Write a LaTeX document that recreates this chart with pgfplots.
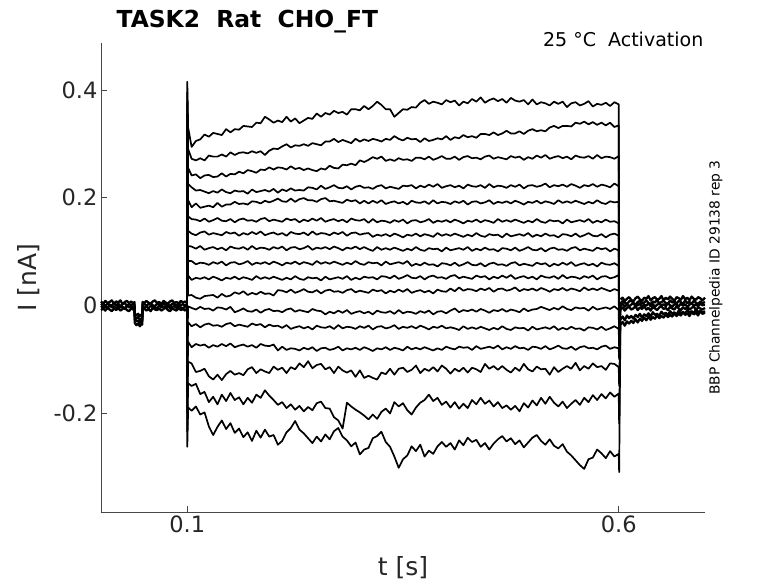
\documentclass[border=0pt]{standalone}
\usepackage{pgfplots}
\pgfplotsset{compat=1.18}
\usepackage{pgfplotstable}
\usepackage{fontspec}
\setmainfont{DejaVu Sans}
\definecolor{axgray}{HTML}{262626}

\pgfplotstableread{
t a b c d e f g h i j k l m n o p q
0.0995 0.004 0.001 -0.002 0.003 -0.004 0.002 -0.001 0.005 -0.003 0.000 -0.005 0.002 -0.002 0.004 -0.006 -0.001 -0.004
0.1000 0.415 0.395 0.375 0.355 0.335 0.315 0.290 0.270 0.250 0.220 0.180 -0.080 -0.120 -0.160 -0.200 -0.235 -0.263
0.1010 0.330 0.290 0.255 0.225 0.195 0.165 0.138 0.110 0.082 0.055 0.018 -0.002 -0.032 -0.068 -0.105 -0.145 -0.190
0.105 0.294 0.272 0.241 0.219 0.182 0.160 0.133 0.109 0.082 0.047 0.019 -0.005 -0.039 -0.078 -0.108 -0.150 -0.196
0.110 0.305 0.269 0.243 0.213 0.189 0.159 0.130 0.105 0.076 0.051 0.014 -0.008 -0.035 -0.072 -0.124 -0.146 -0.188
0.115 0.308 0.273 0.236 0.214 0.181 0.156 0.135 0.110 0.079 0.049 0.012 -0.003 -0.041 -0.075 -0.122 -0.165 -0.203
0.120 0.317 0.269 0.241 0.211 0.183 0.161 0.137 0.103 0.078 0.052 0.017 -0.007 -0.036 -0.073 -0.118 -0.161 -0.199
0.125 0.313 0.278 0.242 0.208 0.185 0.155 0.131 0.106 0.075 0.048 0.018 -0.006 -0.034 -0.079 -0.132 -0.180 -0.225
0.130 0.320 0.276 0.238 0.212 0.182 0.158 0.134 0.108 0.080 0.053 0.019 -0.010 -0.038 -0.074 -0.138 -0.170 -0.241
0.135 0.318 0.276 0.239 0.209 0.190 0.162 0.132 0.104 0.077 0.050 0.014 -0.004 -0.037 -0.077 -0.129 -0.184 -0.226
0.140 0.316 0.280 0.245 0.215 0.183 0.157 0.130 0.107 0.081 0.046 0.021 -0.005 -0.040 -0.072 -0.139 -0.166 -0.214
0.145 0.327 0.276 0.239 0.210 0.187 0.156 0.136 0.102 0.074 0.051 0.016 -0.008 -0.035 -0.076 -0.128 -0.178 -0.230
0.150 0.321 0.284 0.244 0.208 0.187 0.160 0.133 0.109 0.079 0.049 0.018 -0.003 -0.033 -0.071 -0.122 -0.163 -0.219
0.155 0.327 0.279 0.243 0.213 0.192 0.154 0.135 0.106 0.080 0.053 0.024 -0.013 -0.039 -0.078 -0.129 -0.176 -0.237
0.160 0.326 0.283 0.248 0.211 0.188 0.159 0.129 0.105 0.076 0.048 0.021 -0.010 -0.036 -0.075 -0.126 -0.171 -0.229
0.165 0.333 0.284 0.245 0.212 0.189 0.161 0.134 0.108 0.078 0.052 0.026 -0.006 -0.038 -0.073 -0.130 -0.184 -0.245
0.170 0.332 0.282 0.251 0.207 0.187 0.157 0.131 0.103 0.082 0.050 0.019 -0.011 -0.040 -0.077 -0.119 -0.172 -0.236
0.175 0.331 0.286 0.249 0.215 0.193 0.158 0.136 0.110 0.075 0.047 0.023 -0.012 -0.034 -0.074 -0.115 -0.181 -0.252
0.180 0.339 0.283 0.246 0.210 0.192 0.155 0.132 0.104 0.079 0.054 0.020 -0.008 -0.037 -0.079 -0.126 -0.166 -0.233
0.185 0.338 0.286 0.252 0.212 0.189 0.160 0.137 0.107 0.077 0.049 0.025 -0.014 -0.035 -0.072 -0.119 -0.172 -0.246
0.190 0.350 0.279 0.251 0.214 0.194 0.162 0.130 0.106 0.080 0.052 0.021 -0.009 -0.041 -0.075 -0.123 -0.158 -0.231
0.195 0.345 0.287 0.256 0.211 0.191 0.156 0.133 0.103 0.076 0.049 0.022 -0.007 -0.036 -0.076 -0.126 -0.168 -0.244
0.200 0.339 0.291 0.252 0.216 0.194 0.159 0.135 0.108 0.081 0.053 0.018 -0.011 -0.039 -0.073 -0.114 -0.176 -0.241
0.205 0.343 0.290 0.256 0.209 0.198 0.157 0.131 0.105 0.078 0.050 0.028 -0.010 -0.038 -0.084 -0.120 -0.185 -0.259
0.210 0.340 0.295 0.255 0.215 0.193 0.155 0.134 0.109 0.074 0.047 0.027 -0.013 -0.042 -0.077 -0.116 -0.180 -0.252
0.215 0.350 0.299 0.252 0.212 0.192 0.161 0.129 0.102 0.079 0.051 0.024 -0.008 -0.037 -0.083 -0.126 -0.191 -0.236
0.220 0.341 0.293 0.258 0.217 0.198 0.158 0.136 0.107 0.077 0.048 0.029 -0.006 -0.044 -0.080 -0.115 -0.184 -0.228
0.225 0.347 0.297 0.253 0.213 0.192 0.160 0.133 0.108 0.081 0.054 0.023 -0.012 -0.041 -0.081 -0.119 -0.194 -0.215
0.230 0.338 0.296 0.255 0.214 0.197 0.154 0.132 0.104 0.076 0.049 0.026 -0.009 -0.039 -0.084 -0.108 -0.187 -0.231
0.235 0.343 0.299 0.251 0.213 0.199 0.159 0.135 0.106 0.080 0.047 0.030 -0.011 -0.043 -0.079 -0.115 -0.197 -0.238
0.240 0.348 0.296 0.254 0.219 0.195 0.156 0.130 0.110 0.078 0.052 0.025 -0.013 -0.040 -0.082 -0.104 -0.189 -0.247
0.245 0.346 0.301 0.251 0.218 0.195 0.161 0.137 0.103 0.075 0.050 0.024 -0.007 -0.045 -0.078 -0.117 -0.195 -0.256
0.250 0.356 0.299 0.249 0.215 0.192 0.157 0.131 0.107 0.082 0.051 0.028 -0.010 -0.038 -0.085 -0.111 -0.182 -0.244
0.255 0.350 0.297 0.254 0.222 0.197 0.162 0.134 0.105 0.077 0.046 0.022 -0.011 -0.041 -0.080 -0.109 -0.179 -0.253
0.260 0.357 0.304 0.252 0.216 0.199 0.155 0.133 0.108 0.080 0.053 0.027 -0.017 -0.042 -0.079 -0.119 -0.191 -0.240
0.265 0.354 0.304 0.259 0.219 0.193 0.158 0.130 0.104 0.077 0.048 0.029 -0.012 -0.039 -0.083 -0.115 -0.192 -0.249
0.270 0.361 0.309 0.255 0.223 0.194 0.160 0.135 0.109 0.081 0.050 0.025 -0.015 -0.044 -0.081 -0.126 -0.208 -0.234
0.275 0.357 0.303 0.254 0.218 0.192 0.156 0.132 0.106 0.078 0.052 0.026 -0.010 -0.037 -0.077 -0.114 -0.214 -0.228
0.280 0.359 0.307 0.261 0.217 0.190 0.159 0.136 0.102 0.075 0.049 0.023 -0.014 -0.043 -0.084 -0.121 -0.229 -0.244
0.285 0.354 0.304 0.260 0.221 0.196 0.154 0.129 0.107 0.079 0.054 0.028 -0.009 -0.040 -0.080 -0.125 -0.181 -0.251
0.290 0.364 0.301 0.263 0.215 0.193 0.161 0.134 0.105 0.076 0.047 0.030 -0.016 -0.041 -0.082 -0.121 -0.188 -0.262
0.295 0.364 0.309 0.260 0.220 0.195 0.158 0.135 0.109 0.082 0.051 0.024 -0.013 -0.044 -0.079 -0.133 -0.194 -0.255
0.300 0.362 0.304 0.269 0.222 0.189 0.157 0.131 0.104 0.077 0.048 0.027 -0.011 -0.039 -0.083 -0.121 -0.199 -0.277
0.305 0.370 0.308 0.266 0.218 0.194 0.160 0.133 0.108 0.075 0.053 0.025 -0.015 -0.042 -0.078 -0.135 -0.205 -0.268
0.310 0.364 0.305 0.270 0.219 0.189 0.153 0.134 0.104 0.080 0.051 0.023 -0.012 -0.038 -0.081 -0.131 -0.212 -0.265
0.315 0.370 0.309 0.275 0.216 0.194 0.160 0.127 0.101 0.078 0.052 0.029 -0.017 -0.045 -0.085 -0.135 -0.203 -0.247
0.320 0.378 0.307 0.272 0.221 0.190 0.154 0.131 0.108 0.079 0.048 0.026 -0.010 -0.040 -0.080 -0.138 -0.211 -0.243
0.325 0.372 0.304 0.276 0.223 0.195 0.157 0.129 0.103 0.074 0.054 0.028 -0.013 -0.039 -0.082 -0.125 -0.198 -0.235
0.330 0.364 0.309 0.268 0.217 0.188 0.156 0.132 0.106 0.081 0.053 0.022 -0.014 -0.043 -0.078 -0.128 -0.192 -0.254
0.335 0.364 0.307 0.271 0.220 0.191 0.153 0.128 0.103 0.076 0.050 0.027 -0.011 -0.041 -0.083 -0.118 -0.201 -0.263
0.340 0.350 0.314 0.268 0.218 0.193 0.158 0.133 0.107 0.078 0.055 0.024 -0.016 -0.037 -0.079 -0.129 -0.180 -0.281
0.345 0.357 0.309 0.273 0.216 0.189 0.155 0.130 0.104 0.080 0.049 0.029 -0.009 -0.044 -0.081 -0.118 -0.188 -0.302
0.350 0.364 0.306 0.270 0.222 0.192 0.159 0.126 0.101 0.077 0.052 0.025 -0.015 -0.040 -0.084 -0.116 -0.182 -0.286
0.355 0.363 0.311 0.271 0.221 0.187 0.152 0.131 0.105 0.082 0.056 0.030 -0.012 -0.042 -0.077 -0.124 -0.195 -0.279
0.360 0.368 0.308 0.268 0.223 0.194 0.157 0.129 0.102 0.073 0.051 0.023 -0.013 -0.039 -0.082 -0.120 -0.203 -0.262
0.365 0.367 0.309 0.274 0.217 0.191 0.158 0.133 0.108 0.077 0.050 0.026 -0.016 -0.043 -0.079 -0.112 -0.190 -0.271
0.370 0.376 0.303 0.274 0.222 0.190 0.154 0.128 0.103 0.074 0.054 0.028 -0.011 -0.038 -0.082 -0.126 -0.181 -0.259
0.375 0.381 0.310 0.271 0.219 0.193 0.156 0.132 0.101 0.079 0.048 0.024 -0.014 -0.041 -0.078 -0.118 -0.176 -0.281
0.380 0.374 0.305 0.276 0.224 0.188 0.160 0.130 0.106 0.075 0.053 0.027 -0.010 -0.045 -0.081 -0.122 -0.166 -0.270
0.385 0.378 0.307 0.270 0.220 0.195 0.153 0.127 0.104 0.076 0.055 0.022 -0.017 -0.040 -0.084 -0.115 -0.178 -0.276
0.390 0.376 0.310 0.273 0.225 0.189 0.157 0.134 0.105 0.072 0.051 0.029 -0.012 -0.042 -0.080 -0.123 -0.172 -0.262
0.395 0.373 0.308 0.277 0.218 0.192 0.155 0.129 0.100 0.078 0.052 0.026 -0.011 -0.038 -0.083 -0.112 -0.185 -0.254
0.400 0.381 0.314 0.272 0.221 0.191 0.158 0.132 0.107 0.077 0.049 0.025 -0.015 -0.043 -0.077 -0.118 -0.179 -0.263
0.405 0.377 0.307 0.272 0.223 0.188 0.154 0.129 0.102 0.074 0.054 0.031 -0.010 -0.041 -0.080 -0.127 -0.190 -0.256
0.410 0.380 0.312 0.276 0.219 0.193 0.159 0.133 0.104 0.079 0.056 0.026 -0.006 -0.043 -0.082 -0.118 -0.180 -0.268
0.415 0.371 0.310 0.270 0.222 0.190 0.156 0.130 0.106 0.073 0.050 0.033 -0.013 -0.046 -0.077 -0.123 -0.192 -0.251
0.420 0.378 0.316 0.275 0.217 0.194 0.152 0.127 0.103 0.076 0.053 0.027 -0.009 -0.039 -0.079 -0.116 -0.183 -0.260
0.425 0.375 0.312 0.277 0.224 0.187 0.157 0.131 0.108 0.080 0.051 0.030 -0.011 -0.044 -0.078 -0.125 -0.191 -0.246
0.430 0.383 0.314 0.273 0.221 0.192 0.155 0.128 0.101 0.075 0.049 0.029 -0.008 -0.041 -0.083 -0.116 -0.176 -0.254
0.435 0.378 0.311 0.274 0.220 0.193 0.159 0.134 0.105 0.074 0.055 0.026 -0.012 -0.044 -0.076 -0.119 -0.184 -0.250
0.440 0.386 0.318 0.271 0.223 0.189 0.154 0.129 0.102 0.078 0.052 0.031 -0.007 -0.040 -0.081 -0.124 -0.172 -0.263
0.445 0.376 0.318 0.276 0.218 0.191 0.158 0.127 0.107 0.072 0.054 0.028 -0.010 -0.043 -0.079 -0.109 -0.183 -0.256
0.450 0.381 0.316 0.278 0.225 0.195 0.156 0.132 0.103 0.077 0.048 0.032 -0.014 -0.046 -0.077 -0.118 -0.177 -0.268
0.455 0.384 0.321 0.272 0.219 0.188 0.153 0.130 0.104 0.079 0.053 0.025 -0.009 -0.042 -0.080 -0.113 -0.188 -0.257
0.460 0.379 0.316 0.275 0.222 0.192 0.160 0.131 0.100 0.075 0.050 0.030 -0.011 -0.045 -0.075 -0.120 -0.180 -0.249
0.465 0.383 0.319 0.273 0.221 0.190 0.155 0.126 0.106 0.076 0.055 0.031 -0.007 -0.039 -0.082 -0.113 -0.191 -0.243
0.470 0.376 0.324 0.271 0.218 0.193 0.158 0.133 0.105 0.073 0.051 0.027 -0.012 -0.044 -0.078 -0.120 -0.186 -0.253
0.475 0.385 0.319 0.277 0.223 0.189 0.155 0.128 0.102 0.078 0.056 0.029 -0.008 -0.046 -0.081 -0.125 -0.194 -0.247
0.480 0.380 0.319 0.274 0.220 0.194 0.159 0.130 0.107 0.080 0.049 0.033 -0.010 -0.041 -0.076 -0.116 -0.187 -0.258
0.485 0.378 0.323 0.276 0.224 0.191 0.156 0.132 0.101 0.074 0.052 0.026 -0.013 -0.043 -0.080 -0.122 -0.197 -0.251
0.490 0.381 0.318 0.270 0.217 0.187 0.153 0.129 0.104 0.077 0.054 0.030 -0.006 -0.042 -0.079 -0.109 -0.182 -0.264
0.495 0.373 0.324 0.275 0.222 0.192 0.157 0.134 0.108 0.075 0.050 0.028 -0.011 -0.047 -0.083 -0.119 -0.190 -0.255
0.500 0.382 0.327 0.272 0.223 0.190 0.154 0.127 0.103 0.073 0.053 0.031 -0.008 -0.040 -0.077 -0.123 -0.177 -0.246
0.505 0.373 0.323 0.278 0.220 0.194 0.160 0.131 0.102 0.079 0.048 0.027 -0.007 -0.045 -0.078 -0.114 -0.186 -0.241
0.510 0.377 0.325 0.274 0.222 0.189 0.155 0.128 0.106 0.076 0.055 0.032 -0.003 -0.043 -0.081 -0.119 -0.172 -0.252
0.515 0.375 0.323 0.279 0.226 0.193 0.153 0.133 0.100 0.078 0.052 0.029 -0.006 -0.041 -0.076 -0.118 -0.183 -0.259
0.520 0.371 0.330 0.272 0.219 0.191 0.158 0.129 0.105 0.072 0.051 0.025 -0.009 -0.044 -0.082 -0.129 -0.170 -0.249
0.525 0.378 0.333 0.275 0.223 0.188 0.156 0.130 0.107 0.077 0.054 0.030 -0.005 -0.039 -0.079 -0.115 -0.181 -0.261
0.530 0.374 0.329 0.277 0.221 0.195 0.157 0.126 0.103 0.074 0.049 0.028 -0.008 -0.046 -0.075 -0.124 -0.188 -0.266
0.535 0.378 0.333 0.273 0.224 0.190 0.152 0.132 0.104 0.079 0.056 0.032 -0.002 -0.042 -0.080 -0.118 -0.179 -0.258
0.540 0.368 0.333 0.276 0.220 0.193 0.159 0.131 0.101 0.075 0.050 0.027 -0.007 -0.045 -0.081 -0.113 -0.191 -0.272
0.545 0.375 0.332 0.271 0.225 0.190 0.154 0.128 0.106 0.080 0.053 0.031 -0.009 -0.040 -0.077 -0.118 -0.183 -0.279
0.550 0.377 0.339 0.278 0.222 0.194 0.156 0.133 0.108 0.073 0.052 0.029 -0.004 -0.044 -0.083 -0.107 -0.176 -0.288
0.555 0.371 0.337 0.275 0.218 0.191 0.158 0.127 0.102 0.076 0.049 0.026 -0.006 -0.043 -0.078 -0.121 -0.185 -0.297
0.560 0.374 0.341 0.274 0.223 0.188 0.155 0.130 0.105 0.078 0.054 0.033 -0.005 -0.047 -0.076 -0.113 -0.172 -0.304
0.565 0.379 0.336 0.277 0.221 0.192 0.160 0.134 0.103 0.074 0.051 0.028 -0.010 -0.041 -0.080 -0.118 -0.180 -0.286
0.570 0.369 0.340 0.272 0.225 0.189 0.153 0.129 0.101 0.077 0.055 0.031 -0.003 -0.042 -0.079 -0.108 -0.167 -0.283
0.575 0.374 0.335 0.279 0.220 0.195 0.157 0.128 0.107 0.072 0.048 0.028 -0.008 -0.045 -0.082 -0.115 -0.176 -0.268
0.580 0.372 0.339 0.273 0.224 0.190 0.154 0.132 0.104 0.079 0.053 0.032 -0.006 -0.040 -0.077 -0.113 -0.165 -0.275
0.585 0.376 0.334 0.276 0.222 0.188 0.159 0.126 0.106 0.076 0.054 0.029 -0.004 -0.046 -0.075 -0.120 -0.173 -0.284
0.590 0.370 0.339 0.275 0.219 0.193 0.155 0.131 0.100 0.075 0.050 0.026 -0.007 -0.043 -0.081 -0.108 -0.162 -0.271
0.595 0.377 0.331 0.272 0.226 0.191 0.156 0.133 0.105 0.078 0.052 0.030 -0.002 -0.039 -0.078 -0.109 -0.170 -0.281
0.600 0.373 0.334 0.277 0.221 0.192 0.152 0.129 0.102 0.073 0.056 0.027 -0.009 -0.044 -0.080 -0.115 -0.164 -0.276
0.6005 -0.040 -0.045 -0.050 -0.052 -0.055 -0.058 -0.060 -0.062 -0.064 -0.066 -0.068 -0.070 -0.080 -0.100 -0.150 -0.220 -0.310
0.6020 0.006 0.004 0.003 0.005 0.002 0.004 0.001 0.003 0.000 0.002 -0.001 -0.003 -0.008 -0.015 -0.025 -0.032 -0.038
}\pulse

\pgfplotstableread{
t A B C D
0.0000 0.007 0.000 -0.001 -0.009
0.0025 0.003 0.004 -0.005 -0.006
0.0050 0.008 -0.002 -0.002 -0.010
0.0075 0.004 0.003 -0.006 -0.004
0.0100 0.006 0.001 0.000 -0.008
0.0125 0.009 -0.001 -0.004 -0.011
0.0150 0.003 0.004 -0.002 -0.006
0.0175 0.007 0.000 -0.006 -0.009
0.0200 0.005 0.003 -0.001 -0.005
0.0225 0.009 -0.002 -0.004 -0.010
0.0250 0.002 0.002 -0.003 -0.007
0.0275 0.006 0.004 -0.007 -0.004
0.0300 0.008 -0.001 -0.001 -0.009
0.0325 0.004 0.002 -0.004 -0.011
0.0350 0.007 0.000 -0.002 -0.006
0.0375 0.003 0.003 -0.005 -0.008
0.0388 0.006 0.001 -0.003 -0.007
0.0392 -0.015 -0.021 -0.027 -0.033
0.0410 -0.019 -0.025 -0.030 -0.037
0.0430 -0.016 -0.022 -0.029 -0.034
0.0450 -0.020 -0.027 -0.033 -0.039
0.0470 -0.017 -0.024 -0.028 -0.035
0.0478 -0.018 -0.024 -0.030 -0.036
0.0482 0.006 0.001 -0.003 -0.008
0.0500 0.004 0.003 -0.005 -0.006
0.0525 0.008 -0.001 -0.002 -0.010
0.0550 0.005 0.002 -0.006 -0.007
0.0575 0.003 0.004 -0.001 -0.011
0.0600 0.007 0.000 -0.004 -0.005
0.0625 0.009 -0.002 -0.003 -0.008
0.0650 0.004 0.003 -0.007 -0.009
0.0675 0.006 0.001 0.000 -0.006
0.0700 0.002 -0.001 -0.004 -0.010
0.0725 0.008 0.004 -0.002 -0.007
0.0750 0.005 0.000 -0.005 -0.004
0.0775 0.003 0.002 -0.001 -0.009
0.0800 0.007 -0.002 -0.006 -0.011
0.0825 0.009 0.003 -0.003 -0.006
0.0850 0.004 0.001 -0.002 -0.008
0.0875 0.006 -0.001 -0.005 -0.010
0.0900 0.003 0.004 -0.001 -0.005
0.0925 0.008 0.000 -0.004 -0.009
0.0950 0.005 0.002 -0.006 -0.007
0.0975 0.007 -0.001 -0.002 -0.010
0.0995 0.004 0.001 -0.003 -0.006
}\pre

\pgfplotstableread{
t A B C D E F
0.6020 0.011 0.003 -0.001 -0.007 -0.026 -0.036
0.6045 0.014 0.008 0.003 -0.004 -0.021 -0.031
0.6070 0.008 0.005 -0.003 -0.010 -0.028 -0.038
0.6095 0.012 0.002 0.002 -0.005 -0.019 -0.030
0.6120 0.015 0.007 -0.002 -0.003 -0.024 -0.034
0.6145 0.010 0.009 0.001 -0.008 -0.020 -0.029
0.6170 0.007 0.004 0.004 -0.006 -0.025 -0.033
0.6195 0.013 0.001 -0.002 -0.002 -0.018 -0.026
0.6220 0.016 0.006 0.000 -0.009 -0.022 -0.032
0.6245 0.011 0.008 0.003 -0.004 -0.016 -0.025
0.6270 0.008 0.003 -0.003 -0.007 -0.023 -0.029
0.6295 0.014 0.005 0.001 -0.002 -0.017 -0.023
0.6320 0.012 0.009 -0.001 -0.008 -0.020 -0.028
0.6345 0.017 0.004 0.004 -0.005 -0.015 -0.021
0.6370 0.009 0.002 -0.002 -0.010 -0.021 -0.027
0.6395 0.013 0.007 0.002 -0.003 -0.013 -0.022
0.6420 0.015 0.005 -0.003 -0.006 -0.018 -0.025
0.6445 0.010 0.010 0.001 -0.009 -0.016 -0.019
0.6470 0.012 0.003 0.003 -0.004 -0.020 -0.024
0.6495 0.017 0.006 -0.001 -0.002 -0.012 -0.020
0.6520 0.009 0.008 0.002 -0.007 -0.017 -0.023
0.6545 0.014 0.004 -0.002 -0.005 -0.014 -0.017
0.6570 0.011 0.002 0.004 -0.009 -0.019 -0.022
0.6595 0.016 0.009 0.000 -0.003 -0.011 -0.018
0.6620 0.012 0.005 -0.003 -0.006 -0.016 -0.021
0.6645 0.008 0.007 0.002 -0.008 -0.013 -0.015
0.6670 0.015 0.003 0.001 -0.002 -0.018 -0.020
0.6695 0.013 0.008 -0.002 -0.006 -0.010 -0.016
0.6720 0.010 0.006 0.003 -0.009 -0.015 -0.019
0.6745 0.017 0.002 -0.001 -0.004 -0.012 -0.013
0.6770 0.011 0.009 0.002 -0.007 -0.016 -0.018
0.6795 0.014 0.004 -0.003 -0.003 -0.009 -0.015
0.6820 0.009 0.006 0.001 -0.008 -0.014 -0.020
0.6845 0.016 0.003 0.004 -0.005 -0.011 -0.012
0.6870 0.012 0.008 -0.001 -0.002 -0.015 -0.017
0.6895 0.010 0.005 0.002 -0.009 -0.008 -0.014
0.6920 0.015 0.002 -0.002 -0.004 -0.013 -0.019
0.6945 0.013 0.007 0.003 -0.006 -0.010 -0.011
0.6970 0.009 0.004 0.000 -0.008 -0.014 -0.016
0.7000 0.014 0.006 0.001 -0.005 -0.011 -0.014
}\tail

\begin{document}
\begin{tikzpicture}
\path[use as bounding box] (-101pt,-71pt) rectangle (677pt,512pt);
\begin{axis}[
  at={(0,0)}, anchor=south west,
  scale only axis, width=604pt, height=469pt,
  xmin=0, xmax=0.7, ymin=-0.384, ymax=0.487,
  axis x line*=bottom, axis y line*=left,
  axis line style={draw=axgray!85, line width=0.6pt, -},
  tick align=inside, major tick length=6.5pt,
  tick style={draw=axgray!85, line width=0.6pt},
  xtick={0.1,0.6}, xticklabels={0.1,0.6},
  ytick={-0.2,0,0.2,0.4}, yticklabels={-0.2,0,0.2,0.4},
  ticklabel style={font=\fontsize{22.5}{27}\selectfont, text=axgray},
  xlabel={t [s]}, ylabel={I [nA]},
  label style={font=\fontsize{25}{30}\selectfont, text=axgray},
  xlabel style={at={(axis description cs:0.5,-0.119)}, anchor=center},
  ylabel style={at={(axis description cs:-0.119,0.5)}, anchor=center},
  clip=false,
]
\pgfplotsinvokeforeach{A,B,C,D}{\addplot[black, mark=none, line width=2.3pt, line join=round] table[x=t,y=#1]{\pre};}
\pgfplotsinvokeforeach{a,b,c,d,e,f,g,h,i,j,k,l,m,n,o,p,q}{\addplot[black, mark=none, line width=1.7pt, line join=round] table[x=t,y=#1]{\pulse};}
\pgfplotsinvokeforeach{A,B,C,D,E,F}{\addplot[black, mark=none, line width=2.3pt, line join=round] table[x=t,y=#1]{\tail};}
\node[anchor=base west, font=\bfseries\fontsize{23.4}{28}\selectfont] at (axis description cs:0.020,1.034) {TASK2\ \ Rat\ \ CHO\_FT};
\node[anchor=base east, font=\fontsize{19}{23}\selectfont] at (axis description cs:1.003,0.992) {25 °C\ \ Activation};
\node[rotate=90, anchor=center, font=\fontsize{13.8}{16}\selectfont] at (axis description cs:1.018,0.5) {BBP Channelpedia ID 29138 rep 3};
\end{axis}
\end{tikzpicture}
\end{document}
